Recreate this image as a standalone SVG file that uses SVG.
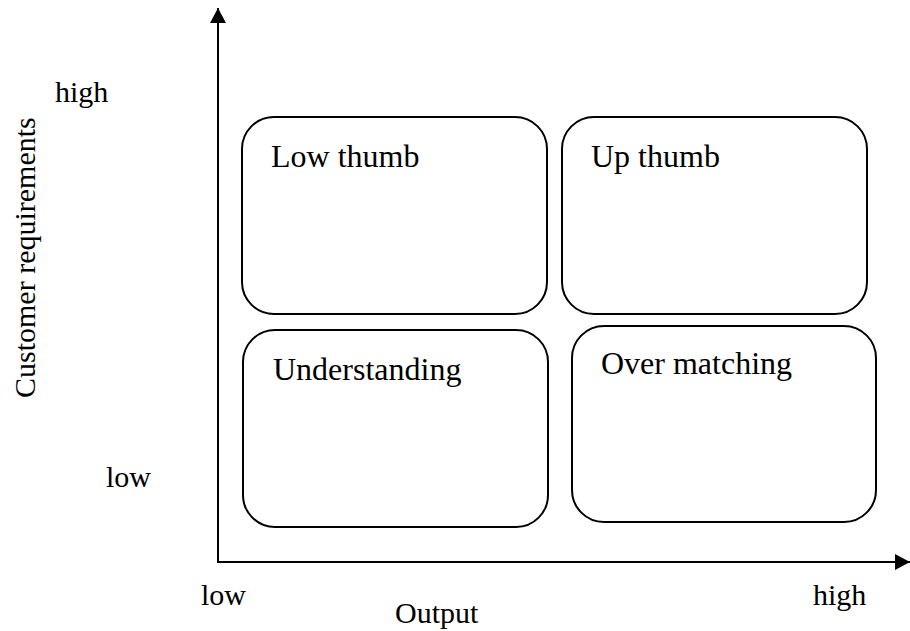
<svg xmlns="http://www.w3.org/2000/svg" width="910" height="631" viewBox="0 0 910 631">
<style>
.box{fill:#fff;stroke:#000;stroke-width:2}
.axis{fill:none;stroke:#000;stroke-width:2}
.lbl{font-family:"Liberation Serif","Times New Roman",serif;font-size:32px;fill:#000}
.ax{font-family:"Liberation Serif","Times New Roman",serif;font-size:30px;fill:#000}
</style>
<defs>
<marker id="arr" markerUnits="userSpaceOnUse" markerWidth="16" markerHeight="16" refX="15" refY="8" orient="auto">
<path d="M0,0 L15,8 L0,16 z" fill="#000"/>
</marker>
</defs>
<rect width="910" height="631" fill="#fff"/>
<g id="connectors">
<line class="axis" x1="218" y1="562" x2="218" y2="8" marker-end="url(#arr)"/>
<line class="axis" x1="217" y1="562" x2="910" y2="562" marker-end="url(#arr)"/>
</g>
<g id="low-thumb">
<rect class="box" x="242" y="117" width="305" height="197" rx="32" ry="32"/>
<text class="lbl" x="271" y="167">Low thumb</text>
</g>
<g id="up-thumb">
<rect class="box" x="562" y="117" width="305" height="197" rx="32" ry="32"/>
<text class="lbl" x="591" y="167">Up thumb</text>
</g>
<g id="understanding">
<rect class="box" x="243" y="330" width="305" height="197" rx="32" ry="32"/>
<text class="lbl" x="273" y="380">Understanding</text>
</g>
<g id="over-matching">
<rect class="box" x="572" y="326" width="304" height="196" rx="32" ry="32"/>
<text class="lbl" x="601" y="374">Over matching</text>
</g>
<g id="axis-labels">
<text class="ax" x="35" y="398" transform="rotate(-90 35 398)">Customer requirements</text>
<text class="ax" x="55" y="102">high</text>
<text class="ax" x="106" y="487">low</text>
<text class="ax" x="201" y="605">low</text>
<text class="ax" x="395" y="623">Output</text>
<text class="ax" x="813" y="605">high</text>
</g>
</svg>
